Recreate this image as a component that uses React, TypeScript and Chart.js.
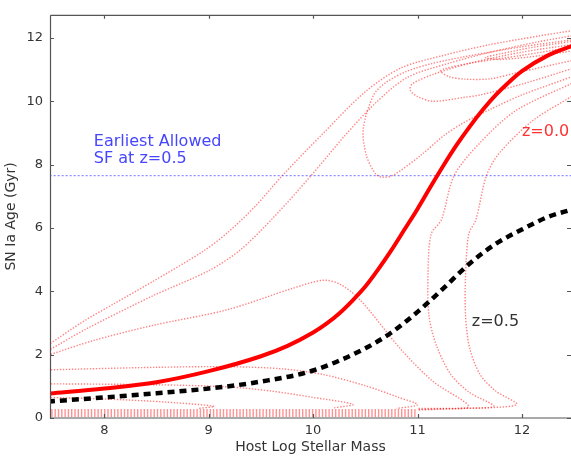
import React, { useEffect, useRef } from "react";
import { Chart, registerables } from "chart.js";

Chart.register(...registerables);

// ---------- data ----------
const xTicks = [8, 9, 10, 11, 12];
const yTicks = [0, 2, 4, 6, 8, 10, 12];

// z = 0.0 model (thick red line)
const massZ00 = [7.46, 8, 8.5, 9, 9.5, 9.75, 10, 10.125, 10.25, 10.375, 10.5, 10.625, 10.75, 10.875, 11, 11.125, 11.25, 11.375, 11.5, 11.625, 11.75, 11.875, 12, 12.25, 12.5];
const ageZ00 = [0.77, 0.93, 1.13, 1.48, 1.95, 2.27, 2.7, 2.97, 3.3, 3.7, 4.15, 4.7, 5.3, 5.95, 6.6, 7.3, 7.98, 8.62, 9.2, 9.73, 10.2, 10.6, 10.95, 11.45, 11.77];

// z = 0.5 model (black dashed)
const massZ05 = [7.46, 8, 8.5, 9, 9.5, 10, 10.5, 10.75, 11, 11.25, 11.5, 11.75, 12, 12.25, 12.5];
const ageZ05 = [0.52, 0.65, 0.78, 0.93, 1.15, 1.5, 2.2, 2.7, 3.35, 4.1, 4.88, 5.5, 5.95, 6.35, 6.6];

// earliest allowed star formation at z = 0.5
const earliestSF = 7.65;

// contour lines [mass, age]
const contourA = [[7.46, 2.3], [7.8, 3.05], [8.1, 3.62], [8.46, 4.3], [8.94, 5.25], [9.18, 5.85], [9.45, 6.7], [9.71, 7.67], [10.1, 9.0], [10.5, 10.3], [10.84, 11.05], [11.25, 11.45], [11.68, 11.78], [12.16, 12.06], [12.5, 12.24]];
const contourB = [[7.46, 2.12], [7.82, 2.8], [8.46, 3.85], [9.0, 4.65], [9.3, 5.3], [9.62, 6.33], [9.98, 7.65], [10.3, 8.9], [10.6, 9.95], [10.9, 10.75], [11.3, 11.2], [11.7, 11.55], [12.16, 11.88], [12.5, 12.08]];
const contourV = [[12.5, 11.95], [12.0, 11.72], [11.44, 11.4], [11.15, 11.2], [10.9, 10.95], [10.7, 10.6], [10.58, 10.2], [10.48, 9.13], [10.51, 8.29], [10.6, 7.7], [10.67, 7.6], [10.77, 7.67], [11.03, 8.29], [11.25, 8.91], [11.44, 9.32], [11.7, 9.75], [12.0, 10.2], [12.5, 10.8]];
const contourI3 = [[12.5, 11.8], [12.0, 11.55], [11.5, 11.2], [11.15, 10.85], [10.95, 10.55], [10.93, 10.35], [11.0, 10.15], [11.15, 10.0], [11.44, 10.12], [11.6, 10.2], [12.02, 10.56], [12.5, 11.05]];
const contourI2 = [[12.5, 11.72], [12.0, 11.45], [11.5, 11.2], [11.25, 11.02], [11.22, 10.95], [11.3, 10.78], [11.45, 10.7], [11.7, 10.71], [11.95, 10.9], [12.5, 11.3]];
const contourI1 = [[12.5, 11.9], [12.1, 11.7], [11.8, 11.5], [11.65, 11.38], [11.8, 11.32], [12.2, 11.45], [12.5, 11.6]];
const contourR1 = [[12.5, 10.6], [11.94, 9.7], [11.59, 8.66], [11.35, 7.65], [11.23, 6.27], [11.13, 5.8], [11.1, 4.5], [11.11, 3.23], [11.18, 2.3], [11.32, 1.37], [11.5, 0.8], [11.73, 0.37], [11.4, 0.3], [11.0, 0.27]];
const contourR2 = [[12.5, 10.2], [12.1, 9.38], [11.78, 8.35], [11.66, 7.65], [11.56, 6.27], [11.49, 5.8], [11.46, 4.5], [11.46, 3.23], [11.5, 2.2], [11.6, 1.37], [11.75, 0.85], [11.95, 0.43], [11.6, 0.32], [11.0, 0.3]];
const contourC = [[7.46, 1.98], [7.9, 2.45], [8.46, 2.92], [9.18, 3.42], [9.81, 4.1], [10.1, 4.35], [10.26, 4.22], [10.45, 3.73], [10.84, 2.17], [11.15, 1.15], [11.49, 0.37], [11.2, 0.28], [11.0, 0.25]];
const contourD = [[7.46, 1.52], [8.5, 1.6], [9.2, 1.62], [9.71, 1.55], [10.1, 1.37], [10.5, 1.02], [10.82, 0.65], [11.0, 0.42], [10.8, 0.3]];
const contourE = [[7.46, 1.08], [8.5, 1.05], [9.2, 0.98], [9.6, 0.85], [10.0, 0.65], [10.38, 0.43], [10.2, 0.32]];
const contourF = [[7.46, 0.65], [8.0, 0.6], [8.6, 0.5], [9.05, 0.37], [8.9, 0.3]];
const contourFloor = [[7.46, 0.16], [11.0, 0.16]];

// text annotations
const annotations = [
  { text: "Earliest Allowed", x: 7.9, y: 8.6, color: "rgb(70,70,255)" },
  { text: "SF at z=0.5", x: 7.9, y: 8.04, color: "rgb(70,70,255)" },
  { text: "z=0.0", x: 12.0, y: 8.9, color: "rgb(255,50,50)" },
  { text: "z=0.5", x: 11.52, y: 2.92, color: "#333" },
];

// ---------- helpers ----------
const zip = (xs: number[], ys: number[]) => xs.map((x, i) => ({ x, y: ys[i] }));
const pts = (arr: number[][]) => arr.map(([x, y]) => ({ x, y }));

const FONT = "'DejaVu Sans', 'Liberation Sans', sans-serif";

const contourStyle = {
  showLine: true,
  pointRadius: 0,
  borderColor: "rgba(255,30,30,0.55)",
  borderWidth: 1.4,
  borderDash: [1.4, 1.6],
  tension: 0.3,
  fill: false,
  order: 3,
};

const framePlugin = {
  id: "frame",
  afterDatasetsDraw(chart: any) {
    const { ctx, chartArea: a, scales } = chart;
    const xs = scales.x;
    const ys = scales.y;
    ctx.save();
    ctx.strokeStyle = "#555";
    ctx.lineWidth = 1.2;
    ctx.beginPath();
    ctx.moveTo(a.left + 0.5, a.top + 0.5);
    ctx.lineTo(a.right + 2, a.top + 0.5);
    ctx.moveTo(a.left + 0.5, a.top + 0.5);
    ctx.lineTo(a.left + 0.5, a.bottom);
    ctx.lineTo(a.right + 2, a.bottom);
    const tl = 4;
    xTicks.forEach((v) => {
      const px = Math.round(xs.getPixelForValue(v)) + 0.5;
      ctx.moveTo(px, a.bottom);
      ctx.lineTo(px, a.bottom - tl);
      ctx.moveTo(px, a.top);
      ctx.lineTo(px, a.top + tl);
    });
    yTicks.forEach((v) => {
      const py = Math.round(ys.getPixelForValue(v)) + 0.5;
      ctx.moveTo(a.left, py);
      ctx.lineTo(a.left + tl, py);
      ctx.moveTo(a.right, py);
      ctx.lineTo(a.right - tl, py);
    });
    ctx.stroke();

    ctx.font = `16px ${FONT}`;
    ctx.textBaseline = "alphabetic";
    ctx.textAlign = "left";
    annotations.forEach((an) => {
      ctx.fillStyle = an.color;
      ctx.fillText(an.text, xs.getPixelForValue(an.x), ys.getPixelForValue(an.y));
    });
    ctx.restore();
  },
};

export default function App() {
  const ref = useRef<HTMLCanvasElement | null>(null);

  useEffect(() => {
    const canvas = ref.current;
    if (!canvas) return;
    Chart.defaults.font.family = FONT;
    const chart = new Chart(canvas, {
      type: "scatter",
      data: {
        datasets: [
          {
            label: "z=0.5",
            data: zip(massZ05, ageZ05),
            showLine: true,
            pointRadius: 0,
            borderColor: "#000",
            borderWidth: 4.5,
            borderDash: [7, 5],
            cubicInterpolationMode: "monotone",
            order: 0,
          } as any,
          {
            label: "z=0.0",
            data: zip(massZ00, ageZ00),
            showLine: true,
            pointRadius: 0,
            borderColor: "#ff0000",
            borderWidth: 4,
            cubicInterpolationMode: "monotone",
            order: 1,
          },
          {
            label: "Earliest SF",
            data: [
              { x: 7.4, y: earliestSF },
              { x: 12.6, y: earliestSF },
            ],
            showLine: true,
            pointRadius: 0,
            borderColor: "rgba(60,60,255,0.75)",
            borderWidth: 1,
            borderDash: [2, 2],
            order: 2,
          },
          { label: "cA", data: pts(contourA), ...contourStyle },
          { label: "cB", data: pts(contourB), ...contourStyle },
          { label: "cV", data: pts(contourV), ...contourStyle },
          { label: "cI3", data: pts(contourI3), ...contourStyle },
          { label: "cI2", data: pts(contourI2), ...contourStyle },
          { label: "cI1", data: pts(contourI1), ...contourStyle },
          { label: "cR1", data: pts(contourR1), ...contourStyle },
          { label: "cR2", data: pts(contourR2), ...contourStyle },
          { label: "cC", data: pts(contourC), ...contourStyle },
          { label: "cD", data: pts(contourD), ...contourStyle },
          { label: "cE", data: pts(contourE), ...contourStyle },
          { label: "cF", data: pts(contourF), ...contourStyle },
          {
            label: "floor",
            data: pts(contourFloor),
            ...contourStyle,
            borderWidth: 8,
            borderDash: [1.4, 1.9],
            borderColor: "rgba(255,40,40,0.5)",
            tension: 0,
          },
        ] as any,
      },
      options: {
        animation: false,
        responsive: false,
        events: [],
        layout: { padding: { left: 0, right: 0, top: 8, bottom: 0 } },
        plugins: {
          legend: { display: false },
          tooltip: { enabled: false },
          title: { display: false },
        },
        scales: {
          x: {
            type: "linear",
            min: 7.48,
            max: 12.47,
            afterFit: (s: any) => {
              s.height = 41;
            },
            afterBuildTicks: (s: any) => {
              s.ticks = xTicks.map((v) => ({ value: v }));
            },
            grid: { display: false, drawTicks: false },
            border: { display: false },
            ticks: {
              color: "#333",
              font: { size: 13, family: FONT },
              padding: 5,
              maxRotation: 0,
              callback: (v: any) => String(v),
            },
            title: {
              display: true,
              text: "Host Log Stellar Mass",
              color: "#333",
              font: { size: 14, family: FONT },
              padding: { top: 0, bottom: 3 },
            },
          },
          y: {
            type: "linear",
            min: 0,
            max: 12.73,
            afterFit: (s: any) => {
              s.width = 50;
            },
            afterBuildTicks: (s: any) => {
              s.ticks = yTicks.map((v) => ({ value: v }));
            },
            grid: { display: false, drawTicks: false },
            border: { display: false },
            ticks: {
              color: "#333",
              font: { size: 13, family: FONT },
              padding: 7,
              callback: (v: any) => String(v),
            },
            title: {
              display: true,
              text: "SN Ia Age (Gyr)",
              color: "#333",
              font: { size: 14, family: FONT },
              padding: { top: 3, bottom: 0 },
            },
          },
        },
      },
      plugins: [framePlugin],
    });
    return () => chart.destroy();
  }, []);

  return (
    <div style={{ position: "fixed", left: 0, top: 0, width: 571, height: 459, background: "#fff" }}>
      <canvas ref={ref} width={571} height={459} style={{ display: "block" }} />
    </div>
  );
}
